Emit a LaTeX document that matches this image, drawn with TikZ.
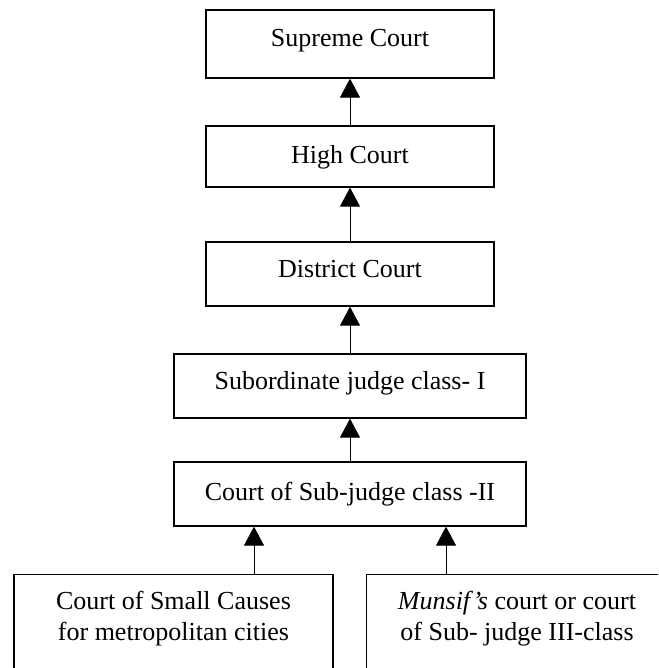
\documentclass[tikz,border=0pt]{standalone}
\usepackage{fontspec}
\setmainfont{Liberation Serif}
\usetikzlibrary{arrows.meta}
\begin{document}
\begin{tikzpicture}[x=1pt,y=1pt,
  txt/.style={font=\fontsize{26}{31}\selectfont},
  court/.style={draw, line width=1.3pt, inner sep=0pt, txt, text depth=6pt},
  wide/.style={court, minimum width=288pt},
  wider/.style={court, minimum width=352pt},
  base/.style={draw, line width=1.3pt, inner sep=0pt, minimum height=150pt},
  up/.style={-{Triangle[width=20pt,length=19pt]}, line width=1pt},
]
\useasboundingbox (0,0) rectangle (658,-668);
\clip (0,0) rectangle (658,-668);

% hierarchy of courts, top to bottom
\node[wide, minimum height=68pt, text height=10.2pt] (sc) at (350,-44) {Supreme Court};
\node[wide, minimum height=61pt, text height=20.2pt] (hc) at (350,-156.5) {High Court};
\node[wide, minimum height=64pt, text height=13.2pt] (dc) at (350,-274) {District Court};
\node[wider, minimum height=64pt, text height=13.2pt] (sj1) at (350,-386) {Subordinate judge class- I};
\node[wider, minimum height=64pt, text height=18.2pt] (sj2) at (350,-494) {Court of Sub-judge class -II};

% the two lowest courts
\node[base, minimum width=319pt, anchor=north] (lc) at (173.5,-574) {};
\node[txt, anchor=base, inner sep=0pt] (lct) at ([yshift=-35pt]lc.north)
  {\begin{tabular}[t]{@{}c@{}}Court of Small Causes\\for metropolitan cities\end{tabular}};
\node[base, minimum width=320pt, anchor=north west] (rc) at (366,-574) {};
\node[txt, anchor=base, inner sep=0pt] (rct) at (517,-609)
  {\begin{tabular}[t]{@{}c@{}}\textit{Munsif’s} court or court\\of Sub- judge III-class\end{tabular}};

% appeals go upwards
\draw[up] (hc.north) -- (sc.south);
\draw[up] (dc.north) -- (hc.south);
\draw[up] (sj1.north) -- (dc.south);
\draw[up] (sj2.north) -- (sj1.south);
\draw[up] ([xshift=-96pt]sj2.south |- lc.north) -- ([xshift=-96pt]sj2.south);
\draw[up] ([xshift=96pt]sj2.south |- rc.north) -- ([xshift=96pt]sj2.south);
\end{tikzpicture}
\end{document}
